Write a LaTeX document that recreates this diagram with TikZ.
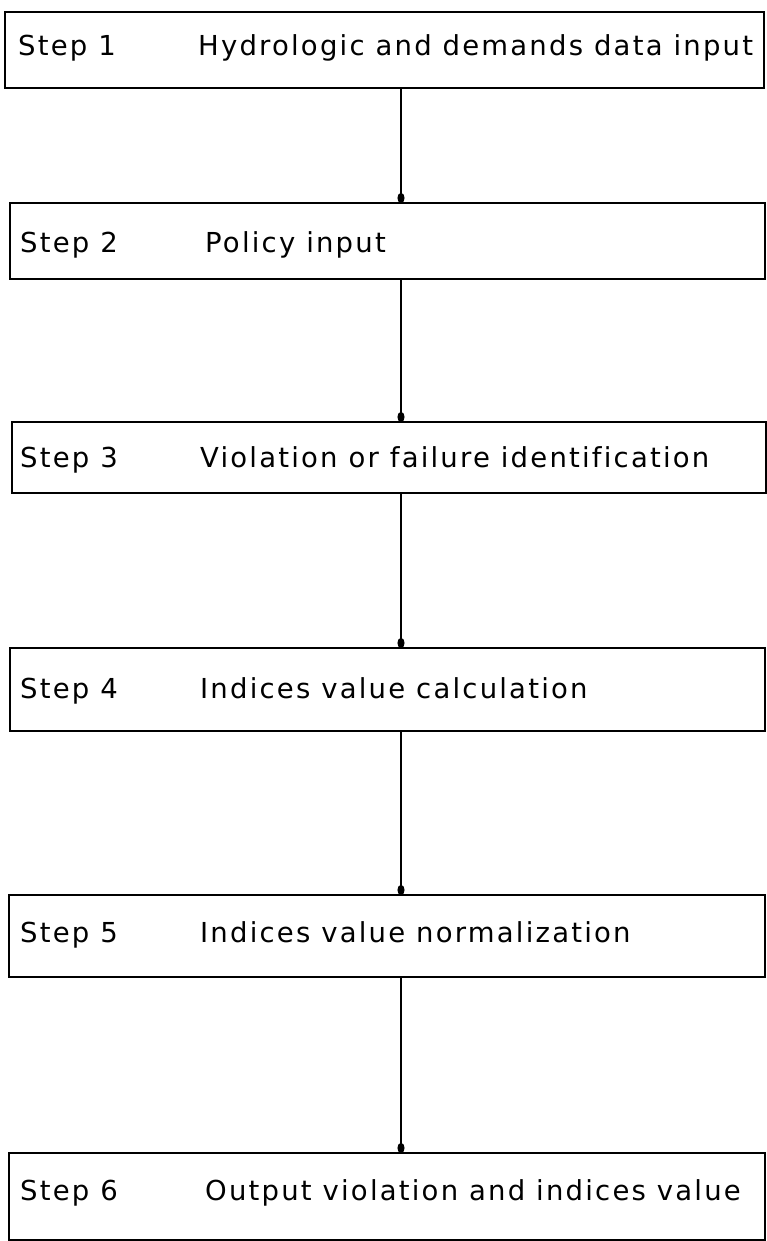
\documentclass[tikz,border=0pt]{standalone}
\usepackage{fontspec}
\setmainfont[LetterSpace=8,Ligatures=NoCommon]{DejaVu Sans}
\usetikzlibrary{arrows.meta}
\begin{document}
\begin{tikzpicture}[x=1pt,y=-1pt,
  stepbox/.style={draw, line width=2.6pt, anchor=north west, inner sep=0pt, outer sep=0pt},
  lbl/.style={anchor=base west, inner sep=0pt, font=\fontsize{27.5}{32}\selectfont},
  conn/.style={line width=2.4pt, -{Circle[length=10pt,width=7pt]}}]
\useasboundingbox (0,0) rectangle (767,1241);
\coordinate (cx) at (401,0);
\node[stepbox, minimum width=759pt, minimum height=76pt] (b1) at (5,12) {};
\node[stepbox, minimum width=755pt, minimum height=76pt] (b2) at (10,203) {};
\node[stepbox, minimum width=754pt, minimum height=71pt] (b3) at (12,422) {};
\node[stepbox, minimum width=755pt, minimum height=83pt] (b4) at (10,648) {};
\node[stepbox, minimum width=756pt, minimum height=82pt] (b5) at (9,895) {};
\node[stepbox, minimum width=756pt, minimum height=87pt] (b6) at (9,1153) {};
\node[lbl] (s1) at (18,56) {Step 1};
\node[lbl] (t1) at (198,56) {Hydrologic and demands data input};
\node[lbl] (s2) at (20,252) {Step 2};
\node[lbl] (t2) at (205,252) {Policy input};
\node[lbl] (s3) at (20,467) {Step 3};
\node[lbl] (t3) at (200,467) {Violation or failure identification};
\node[lbl] (s4) at (20,698) {Step 4};
\node[lbl] (t4) at (200,698) {Indices value calculation};
\node[lbl] (s5) at (20,942) {Step 5};
\node[lbl] (t5) at (200,942) {Indices value normalization};
\node[lbl] (s6) at (20,1200) {Step 6};
\node[lbl] (t6) at (205,1200) {Output violation and indices value};
\draw[conn] (b1.south -| cx) -- (b2.north -| cx);
\draw[conn] (b2.south -| cx) -- (b3.north -| cx);
\draw[conn] (b3.south -| cx) -- (b4.north -| cx);
\draw[conn] (b4.south -| cx) -- (b5.north -| cx);
\draw[conn] (b5.south -| cx) -- (b6.north -| cx);
\end{tikzpicture}
\end{document}
